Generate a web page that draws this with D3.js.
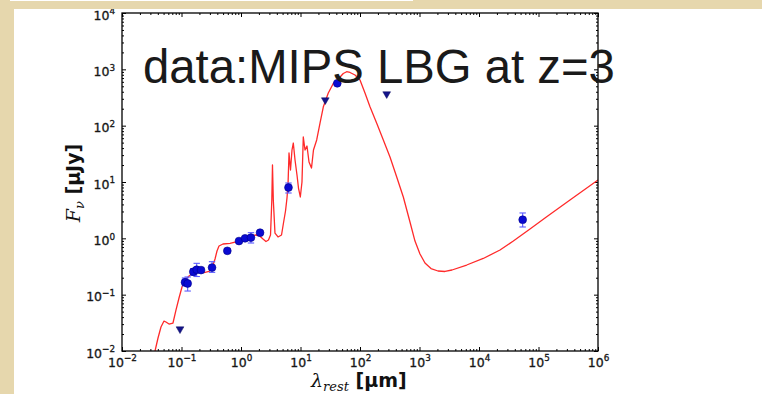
<!DOCTYPE html>
<html>
<head>
<meta charset="utf-8">
<script src="https://cdn.jsdelivr.net/npm/d3@7"></script>
<style>
  html, body { margin: 0; padding: 0; background: #fff; }
  svg { display: block; }
</style>
</head>
<body>
<script>
// ---- Model SED (rest-frame wavelength in μm, flux density in μJy) ----
const sedLambda = [
  0.0313, 0.0359, 0.0403, 0.0452, 0.0508, 0.0548, 0.0617, 0.0719, 0.0809, 0.0908,
  0.102, 0.115, 0.134, 0.162, 0.197, 0.239, 0.290, 0.326, 0.366, 0.395,
  0.427, 0.498, 0.653, 0.857, 1.247, 1.718, 2.009, 2.344, 2.630, 2.897,
  3.133, 3.296, 3.381, 3.491, 3.724, 4.188, 4.797, 5.176, 5.598, 5.929,
  6.166, 6.412, 6.792, 7.194, 7.568, 8.091, 8.730, 9.247, 9.931, 10.59,
  11.14, 11.91, 12.85, 13.90, 15.31, 16.52, 18.71, 21.28, 24.15, 29.31,
  35.56, 43.15, 52.36, 59.70, 67.92, 82.41, 100, 121.3, 147.2, 191.0,
  246.6, 319.2, 414.0, 534.6, 691.8, 839.5, 1019, 1236, 1560, 2046,
  2685, 3516, 6209, 11800, 22540, 37760, 71940, 137400, 338100, 1000000
];
const sedFlux = [
  0.00637, 0.0100, 0.0170, 0.0267, 0.0340, 0.0327, 0.0301, 0.0314, 0.0535, 0.0873,
  0.137, 0.182, 0.214, 0.247, 0.258, 0.247, 0.258, 0.297, 0.430, 0.596,
  0.731, 0.793, 0.817, 0.871, 1.00, 1.146, 1.122, 0.973, 0.879, 0.933,
  1.146, 4.786, 20.04, 4.786, 1.242, 1.057, 1.146, 1.871, 3.055, 5.200,
  8.851, 32.73, 16.33, 36.98, 49.20, 24.55, 13.30, 7.816, 5.420, 10.00,
  62.95, 36.98, 43.55, 22.65, 17.70, 36.98, 55.72, 111.4, 214.3, 380.2,
  559.8, 673.0, 843.3, 907.8, 879.0, 792.5, 647.1, 380.2, 217.3, 110.2,
  55.72, 27.80, 12.27, 5.420, 1.950, 0.895, 0.527, 0.365, 0.291, 0.263,
  0.258, 0.274, 0.336, 0.439, 0.621, 0.895, 1.466, 2.421, 4.786, 10.84
];

// ---- Photometric detections (μm, μJy) with lower / upper error bounds ----
const photLambda = [0.1146, 0.127, 0.158, 0.180, 0.213, 0.326, 0.589, 0.925, 1.17, 1.47, 2.09, 6.28, 41.5, 54200];
const photFlux   = [0.166, 0.158, 0.255, 0.277, 0.273, 0.303, 0.600, 0.895, 1.00, 1.03, 1.26, 7.98, 565, 2.14];
const photLow    = [0.143, 0.116, 0.220, 0.210, 0.250, 0.249, 0.550, 0.850, 0.950, 0.826, 1.18, 6.38, 540, 1.59];
const photHigh   = [0.198, 0.206, 0.290, 0.360, 0.300, 0.385, 0.650, 0.950, 1.06, 1.26, 1.35, 9.60, 590, 2.82];

// ---- Upper limits (μm, μJy) ----
const limLambda = [0.0944, 26.1, 281];
const limFlux   = [0.0245, 285, 365];

// ---- Axis decades (exponents of ten) ----
const xTickExp = [-2, -1, 0, 1, 2, 3, 4, 5, 6];
const yTickExp = [-2, -1, 0, 1, 2, 3, 4];

const titleText = "data:MIPS LBG at z=3";

const W = 762, H = 394;
const plot = { left: 122, right: 598, top: 13, bottom: 351 };

const svg = d3.select("body").append("svg")
  .attr("width", W).attr("height", H)
  .attr("viewBox", `0 0 ${W} ${H}`);

svg.append("rect").attr("width", W).attr("height", H).attr("fill", "#fff");

const x = d3.scaleLog().domain([1e-2, 1e6]).range([plot.left, plot.right]);
const y = d3.scaleLog().domain([1e-2, 1e4]).range([plot.bottom, plot.top]);

const xMajor = xTickExp.map(e => Math.pow(10, e));
const yMajor = yTickExp.map(e => Math.pow(10, e));
const isDecade = v => Math.abs(Math.log10(v) - Math.round(Math.log10(v))) < 1e-9;
const xMinor = x.ticks().filter(v => !isDecade(v));
const yMinor = y.ticks().filter(v => !isDecade(v));

const expLabel = e => (e < 0 ? "\u2212" + Math.abs(e) : String(e));

// Clip for curve
svg.append("clipPath").attr("id", "plotclip")
  .append("rect")
  .attr("x", plot.left).attr("y", plot.top)
  .attr("width", plot.right - plot.left).attr("height", plot.bottom - plot.top);

// ---- Ticks (inward, on all four sides) ----
const tickFont = "'DejaVu Sans', sans-serif";

function styleAxis(g) {
  g.select(".domain").remove();
  g.selectAll(".tick line").attr("stroke", "#000").attr("stroke-width", 1);
}
function labelAxis(g) {
  g.attr("font-family", tickFont).attr("font-size", 12.5);
  g.selectAll(".tick text").each(function (d) {
    const t = d3.select(this);
    const e = Math.round(Math.log10(d));
    t.text(null);
    t.append("tspan").text("10");
    t.append("tspan").attr("font-size", 8.8).attr("dy", -5.5).text(expLabel(e));
  });
  g.selectAll(".tick text")
    .attr("fill", "#161616").attr("stroke", "#161616").attr("stroke-width", 0.3);
}

// bottom
svg.append("g").attr("transform", `translate(0,${plot.bottom})`)
  .call(d3.axisBottom(x).tickValues(xMinor).tickSize(-2).tickFormat(""))
  .call(styleAxis);
svg.append("g").attr("transform", `translate(0,${plot.bottom})`)
  .call(d3.axisBottom(x).tickValues(xMajor).tickSize(-4).tickPadding(7).tickFormat(() => "10"))
  .call(styleAxis)
  .call(labelAxis);

// top
svg.append("g").attr("transform", `translate(0,${plot.top})`)
  .call(d3.axisTop(x).tickValues(xMinor).tickSize(-2).tickFormat(""))
  .call(styleAxis);
svg.append("g").attr("transform", `translate(0,${plot.top})`)
  .call(d3.axisTop(x).tickValues(xMajor).tickSize(-4).tickFormat(""))
  .call(styleAxis);

// left
svg.append("g").attr("transform", `translate(${plot.left},0)`)
  .call(d3.axisLeft(y).tickValues(yMinor).tickSize(-2).tickFormat(""))
  .call(styleAxis);
svg.append("g").attr("transform", `translate(${plot.left},0)`)
  .call(d3.axisLeft(y).tickValues(yMajor).tickSize(-4).tickPadding(7).tickFormat(() => "10"))
  .call(styleAxis)
  .call(labelAxis)
  .call(g => g.selectAll(".tick text").attr("dy", "0.5em"));

// right
svg.append("g").attr("transform", `translate(${plot.right},0)`)
  .call(d3.axisRight(y).tickValues(yMinor).tickSize(-2).tickFormat(""))
  .call(styleAxis);
svg.append("g").attr("transform", `translate(${plot.right},0)`)
  .call(d3.axisRight(y).tickValues(yMajor).tickSize(-4).tickFormat(""))
  .call(styleAxis);

// ---- Model curve ----
const sed = sedLambda.map((l, i) => ({ l, f: sedFlux[i] }));
const line = d3.line().x(d => x(d.l)).y(d => y(d.f));
svg.append("path")
  .datum(sed)
  .attr("clip-path", "url(#plotclip)")
  .attr("d", line)
  .attr("fill", "none")
  .attr("stroke", "#ff2a2a")
  .attr("stroke-width", 1.3)
  .attr("stroke-linejoin", "round");

// ---- Photometry ----
const phot = photLambda.map((l, i) => ({ l, f: photFlux[i], lo: photLow[i], hi: photHigh[i] }));
const errG = svg.append("g").attr("stroke", "#5a5aff").attr("stroke-width", 1.1);
errG.selectAll("line.bar").data(phot).join("line").attr("class", "bar")
  .attr("x1", d => x(d.l)).attr("x2", d => x(d.l))
  .attr("y1", d => y(d.lo)).attr("y2", d => y(d.hi));
errG.selectAll("line.caplo").data(phot).join("line").attr("class", "caplo")
  .attr("x1", d => x(d.l) - 3.2).attr("x2", d => x(d.l) + 3.2)
  .attr("y1", d => y(d.lo)).attr("y2", d => y(d.lo));
errG.selectAll("line.caphi").data(phot).join("line").attr("class", "caphi")
  .attr("x1", d => x(d.l) - 3.2).attr("x2", d => x(d.l) + 3.2)
  .attr("y1", d => y(d.hi)).attr("y2", d => y(d.hi));

svg.append("g").selectAll("circle").data(phot).join("circle")
  .attr("cx", d => x(d.l)).attr("cy", d => y(d.f)).attr("r", 3.9)
  .attr("fill", "#0a0ad2").attr("stroke", "#00008a").attr("stroke-width", 0.6);

// ---- Upper limits ----
const lims = limLambda.map((l, i) => ({ l, f: limFlux[i] }));
svg.append("g").selectAll("path").data(lims).join("path")
  .attr("d", d3.symbol(d3.symbolTriangle, 26))
  .attr("transform", d => `translate(${x(d.l)},${y(d.f)}) rotate(180)`)
  .attr("fill", "#14148a").attr("stroke", "#0a0a60").attr("stroke-width", 0.5);

// ---- Frame ----
svg.append("rect")
  .attr("x", plot.left).attr("y", plot.top)
  .attr("width", plot.right - plot.left).attr("height", plot.bottom - plot.top)
  .attr("fill", "none").attr("stroke", "#000").attr("stroke-width", 1.3);

// ---- Axis titles ----
const xl = svg.append("text")
  .attr("x", 311).attr("y", 387)
  .attr("fill", "#111");
xl.append("tspan").attr("font-family", "'DejaVu Serif', serif").attr("font-style", "italic")
  .attr("font-size", 19).text("\u03bb");
xl.append("tspan").attr("font-family", "'DejaVu Serif', serif").attr("font-style", "italic")
  .attr("font-size", 13).attr("dy", 4).text("rest");
xl.append("tspan").attr("font-family", "'DejaVu Sans', sans-serif").attr("font-weight", "bold")
  .attr("font-size", 19).attr("dy", -4).text("\u00a0[\u03bcm]");

const yl = svg.append("text")
  .attr("transform", "translate(80,183) rotate(-90)")
  .attr("text-anchor", "middle")
  .attr("fill", "#111");
yl.append("tspan").attr("font-family", "'DejaVu Serif', serif").attr("font-style", "italic")
  .attr("font-size", 19).text("F");
yl.append("tspan").attr("font-family", "'DejaVu Serif', serif").attr("font-style", "italic")
  .attr("font-size", 13).attr("dy", 4).text("\u03bd");
yl.append("tspan").attr("font-family", "'DejaVu Sans', sans-serif").attr("font-weight", "bold")
  .attr("font-size", 19).attr("dy", -4).text("\u00a0[\u03bcJy]");

// ---- Slide title over the plot ----
svg.append("text")
  .attr("x", 143).attr("y", 83)
  .attr("font-family", "'Liberation Sans', Arial, sans-serif")
  .attr("font-size", 47.3)
  .attr("fill", "#1a1a1a")
  .text(titleText);

// ---- Slide border ----
const border = svg.append("g").attr("fill", "#e6d7ad");
border.append("rect").attr("x", 0).attr("y", 0).attr("width", W).attr("height", 9);
border.append("rect").attr("x", 0).attr("y", 0).attr("width", 14).attr("height", H);
svg.append("rect").attr("x", 10).attr("y", 0).attr("width", 403).attr("height", 1).attr("fill", "#fff");
</script>
</body>
</html>
